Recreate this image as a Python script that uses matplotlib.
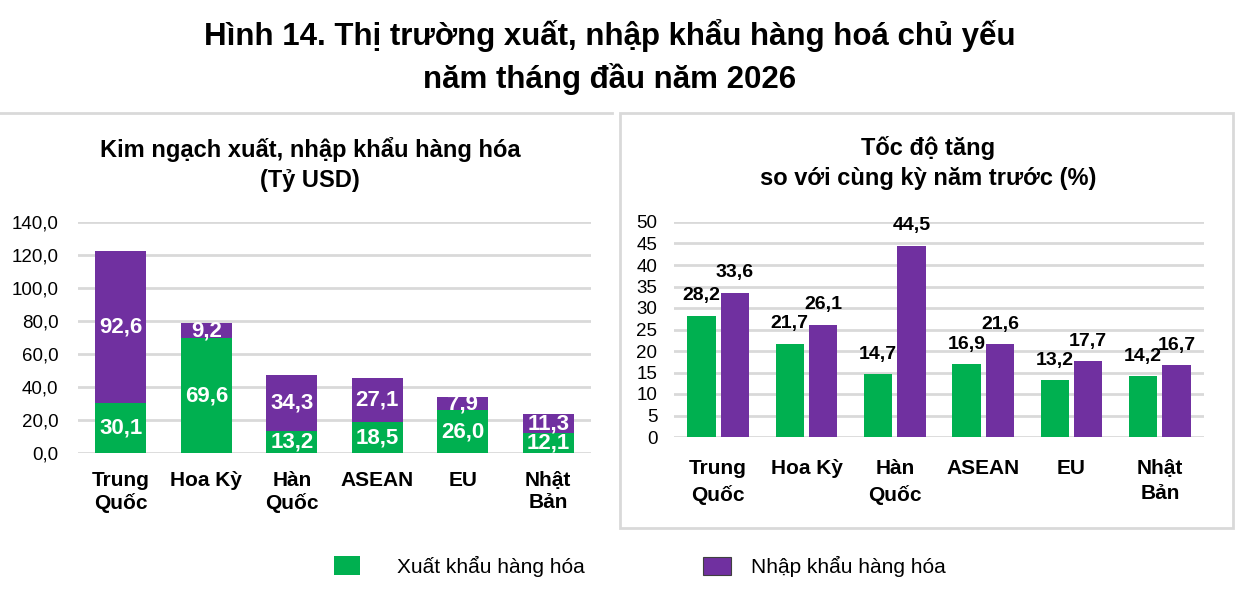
import matplotlib
matplotlib.use("Agg")
import matplotlib.pyplot as plt
from matplotlib.patches import Rectangle
from matplotlib.lines import Line2D
import numpy as np

categories = ["Trung\nQuốc", "Hoa Kỳ", "Hàn\nQuốc", "ASEAN", "EU", "Nhật\nBản"]
export_value = [30.1, 69.6, 13.2, 18.5, 26.0, 12.1]
import_value = [92.6, 9.2, 34.3, 27.1, 7.9, 11.3]
export_growth = [28.2, 21.7, 14.7, 16.9, 13.2, 14.2]
import_growth = [33.6, 26.1, 44.5, 21.6, 17.7, 16.7]
left_ticks = [0, 20, 40, 60, 80, 100, 120, 140]
right_ticks = [0, 5, 10, 15, 20, 25, 30, 35, 40, 45, 50]

GREEN = "#00B050"
PURPLE = "#7030A0"
GRID = "#D9D9D9"
FONT = ["Liberation Sans", "DejaVu Sans"]

plt.rcParams["font.family"] = FONT

W, H = 1236, 602
fig = plt.figure(figsize=(W / 100, H / 100), dpi=100)

def fx(px):
    return px / W

def fy(py):
    return 1 - py / H

def fmt(v):
    return f"{v:.1f}".replace(".", ",")

# Title
fig.text(fx(610), fy(45), "Hình 14. Thị trường xuất, nhập khẩu hàng hoá chủ yếu",
         ha="center", va="baseline", fontsize=22.5, fontweight="bold", color="black")
fig.text(fx(610), fy(88), "năm tháng đầu năm 2026",
         ha="center", va="baseline", fontsize=22.5, fontweight="bold", color="black")

# Left panel top line
fig.add_artist(Line2D([0, fx(612)], [fy(113), fy(113)], color=GRID, lw=2))
# Right panel border
fig.add_artist(Rectangle((fx(620), fy(528)), fx(1233) - fx(620), fy(113) - fy(528),
                         fill=False, edgecolor=GRID, lw=2))

# Left subtitle
fig.text(fx(310), fy(150), "Kim ngạch xuất, nhập khẩu hàng hóa", ha="center", va="center",
         fontsize=17, fontweight="bold")
fig.text(fx(310), fy(180), "(Tỷ USD)", ha="center", va="center",
         fontsize=17, fontweight="bold")

# Right subtitle
fig.text(fx(928), fy(148), "Tốc độ tăng", ha="center", va="center",
         fontsize=17, fontweight="bold")
fig.text(fx(928), fy(178), "so với cùng kỳ năm trước (%)", ha="center", va="center",
         fontsize=17, fontweight="bold")

x = np.arange(len(categories))

# Left axes: stacked
axL = fig.add_axes([fx(78), fy(453), fx(591) - fx(78), fy(222) - fy(453)])
axL.bar(x, export_value, width=0.6, color=GREEN, zorder=3)
axL.bar(x, import_value, width=0.6, bottom=export_value, color=PURPLE, zorder=3)
for i in range(len(categories)):
    axL.text(x[i], export_value[i] / 2, fmt(export_value[i]),
             ha="center", va="center", color="white", fontsize=16, fontweight="bold", zorder=4)
    axL.text(x[i], export_value[i] + import_value[i] / 2, fmt(import_value[i]),
             ha="center", va="center", color="white", fontsize=16, fontweight="bold", zorder=4)
axL.set_ylim(0, 140)
axL.set_xlim(-0.5, len(categories) - 0.5)
axL.set_yticks(left_ticks)
axL.set_yticklabels([fmt(v) for v in left_ticks], fontsize=13.5)
axL.set_xticks(x)
axL.set_xticklabels(categories, fontsize=15, fontweight="bold", linespacing=1.2)
axL.tick_params(axis="x", length=0, pad=13)
axL.tick_params(axis="y", length=0, pad=14)
axL.grid(axis="y", color=GRID, lw=2, zorder=0)
for s in axL.spines.values():
    s.set_visible(False)

# Right axes: grouped
axR = fig.add_axes([fx(674), fy(437), fx(1204) - fx(674), fy(222) - fy(437)])
off = 0.19
bw = 0.32
axR.bar(x - off, export_growth, width=bw, color=GREEN, zorder=3)
axR.bar(x + off, import_growth, width=bw, color=PURPLE, zorder=3)
for i in range(len(categories)):
    axR.annotate(fmt(export_growth[i]), (x[i] - off, export_growth[i]),
                 xytext=(0, 11), textcoords="offset points", ha="center", va="baseline",
                 fontsize=14, fontweight="bold")
    axR.annotate(fmt(import_growth[i]), (x[i] + off, import_growth[i]),
                 xytext=(0, 11), textcoords="offset points", ha="center", va="baseline",
                 fontsize=14, fontweight="bold")
axR.set_ylim(0, 50)
axR.set_xlim(-0.5, len(categories) - 0.5)
axR.set_yticks(right_ticks)
axR.set_yticklabels([str(v) for v in right_ticks], fontsize=13.5)
axR.set_xticks(x)
axR.set_xticklabels(categories, fontsize=15, fontweight="bold", linespacing=1.4)
axR.tick_params(axis="x", length=0, pad=16)
axR.tick_params(axis="y", length=0, pad=12)
axR.grid(axis="y", color=GRID, lw=2, zorder=0)
for s in axR.spines.values():
    s.set_visible(False)

# Legend
fig.add_artist(Rectangle((fx(334), fy(575)), fx(360) - fx(334), fy(556) - fy(575),
                         facecolor=GREEN, edgecolor="none"))
fig.text(fx(397), fy(566), "Xuất khẩu hàng hóa", ha="left", va="center", fontsize=15)
fig.add_artist(Rectangle((fx(703), fy(575)), fx(731) - fx(703), fy(557) - fy(575),
                         facecolor=PURPLE, edgecolor="#404040", lw=0.8))
fig.text(fx(751), fy(566), "Nhập khẩu hàng hóa", ha="left", va="center", fontsize=15)

fig.savefig("out.png", dpi=100, facecolor="white")
